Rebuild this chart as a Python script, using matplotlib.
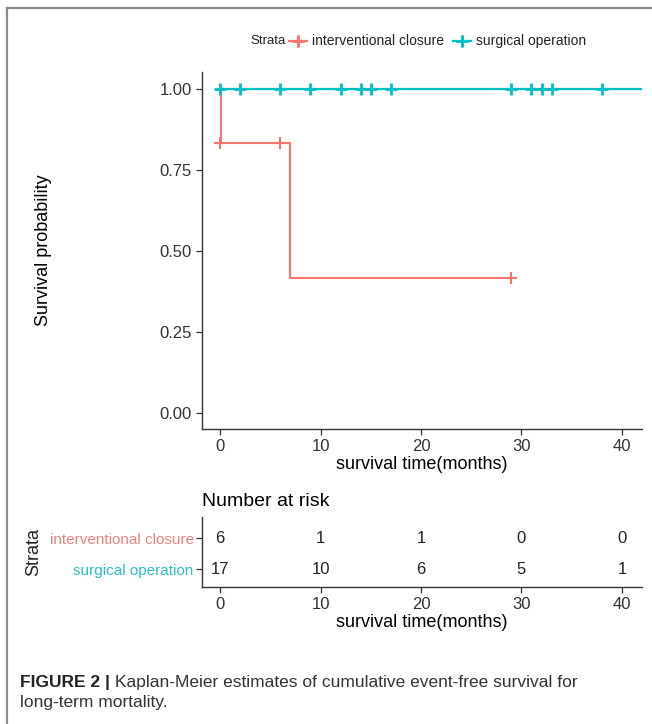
import matplotlib
matplotlib.use("Agg")
import matplotlib.pyplot as plt
from matplotlib.lines import Line2D

plt.rcParams["font.family"] = ["Liberation Sans", "DejaVu Sans"]

# values
strata = ["interventional closure", "surgical operation"]
colors = ["#F8766D", "#00BFC4"]

int_time = [0, 0.1, 7, 29]
int_surv = [1.0, 0.833, 0.417, 0.417]
int_cens_time = [0, 6, 29]
int_cens_surv = [0.833, 0.833, 0.417]

surg_time = [0, 44]
surg_surv = [1.0, 1.0]
surg_cens_time = [0, 2, 6, 9, 12, 14, 15, 17, 29, 31, 32, 33, 38]

risk_times = [0, 10, 20, 30, 40]
risk_int = [6, 1, 1, 0, 0]
risk_surg = [17, 10, 6, 5, 1]

y_ticks = [0.0, 0.25, 0.5, 0.75, 1.0]
y_ticklabels = ["0.00", "0.25", "0.50", "0.75", "1.00"]

W, H = 652, 724
fig = plt.figure(figsize=(W / 100, H / 100), dpi=100)


def style_axes(ax):
    for s in ["top", "right"]:
        ax.spines[s].set_visible(False)
    for s in ["left", "bottom"]:
        ax.spines[s].set_color("#333333")
        ax.spines[s].set_linewidth(1.0)
    ax.tick_params(direction="out", length=4, width=0.9, color="#333333",
                   labelcolor="#333333", labelsize=12)


def fig_line(x0, x1, y, **kw):
    fig.add_artist(Line2D([x0 / W, x1 / W], [1 - y / H, 1 - y / H],
                          transform=fig.transFigure, **kw))


# main survival plot
ax = fig.add_axes([202 / W, 1 - 429 / H, 440 / W, 357 / H])
ax.plot(int_time, int_surv, drawstyle="steps-post", color=colors[0], lw=1.5)
ax.plot(int_cens_time, int_cens_surv, ls="none", marker="+", ms=9, mew=1.5,
        color=colors[0])
ax.plot(surg_time, surg_surv, drawstyle="steps-post", color=colors[1], lw=1.6)
ax.plot(surg_cens_time, [1.0] * len(surg_cens_time), ls="none", marker="+",
        ms=9, mew=2.0, color=colors[1])
ax.set_xlim(-1.8, 42)
ax.set_ylim(-0.05, 1.052)
ax.set_xticks(risk_times)
ax.set_yticks(y_ticks)
ax.set_yticklabels(y_ticklabels)
style_axes(ax)
ax.set_xlabel("survival time(months)", fontsize=13, labelpad=1)
ax.set_ylabel("Survival probability", fontsize=13)
ax.yaxis.set_label_coords(-150 / 440, 0.5)

# legend on top (built by hand so "Strata" sits to the left)
ly = 41
fig.text(250 / W, 1 - ly / H, "Strata", fontsize=9.5, va="center",
         ha="left", color="#222222")
for c, x0, lbl in zip(colors, [289, 453], strata):
    fig_line(x0, x0 + 18, ly, color=c, lw=1.6)
    fig_line(x0 + 9, x0 + 9, ly, color=c, lw=0, marker="+", ms=9, mew=1.8)
    fig.text((x0 + 23) / W, 1 - ly / H, lbl, fontsize=10, va="center",
             ha="left", color="#222222")

# number at risk table
tab = fig.add_axes([202 / W, 1 - 587 / H, 440 / W, 70 / H])
for t, n in zip(risk_times, risk_int):
    tab.text(t, 2, str(n), ha="center", va="center", fontsize=12,
             color="#222222")
for t, n in zip(risk_times, risk_surg):
    tab.text(t, 1, str(n), ha="center", va="center", fontsize=12,
             color="#222222")
tab.set_xlim(-1.8, 42)
tab.set_ylim(0.42, 2.68)
tab.set_xticks(risk_times)
tab.set_yticks([2, 1])
tab.set_yticklabels(strata)
style_axes(tab)
tab.tick_params(axis="y", labelsize=11, pad=2)
for lbl, c in zip(tab.get_yticklabels(), ["#E8847E", "#2BC0C3"]):
    lbl.set_color(c)
tab.set_xlabel("survival time(months)", fontsize=13, labelpad=1)
tab.set_ylabel("Strata", fontsize=13, color="#222222")
tab.yaxis.set_label_coords(-160 / 440, 0.5)
tab.set_title("Number at risk", loc="left", fontsize=14, pad=8)

# page frame
fig.add_artist(Line2D([7 / W, 7 / W], [0, 1 - 8 / H], color="#8a8a8a",
                      lw=1.6, transform=fig.transFigure))
fig_line(7, W, 8, color="#8a8a8a", lw=1.6)

# caption
cap = fig.text(20 / W, 1 - 682 / H, "FIGURE 2 |", fontsize=12.5,
               fontweight="bold", va="center", ha="left", color="#222222")
fig.canvas.draw()
x_end = cap.get_window_extent().x1
fig.text((x_end + 5) / W, 1 - 682 / H,
         "Kaplan-Meier estimates of cumulative event-free survival for",
         fontsize=12.5, va="center", ha="left", color="#333333")
fig.text(20 / W, 1 - 703 / H, "long-term mortality.", fontsize=12.5,
         va="center", ha="left", color="#333333")

fig.savefig("out.png", dpi=100)
